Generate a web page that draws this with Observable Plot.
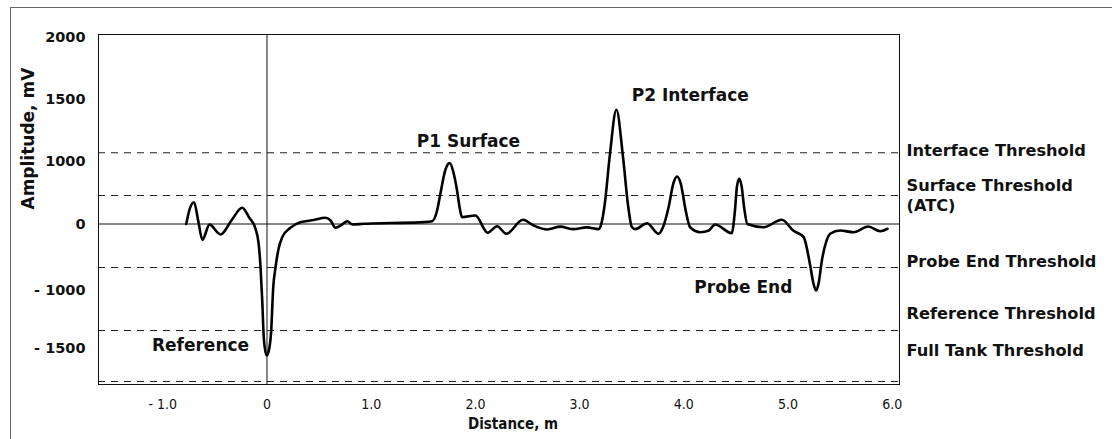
<!DOCTYPE html>
<html><head><meta charset="utf-8">
<script src="https://cdn.jsdelivr.net/npm/d3@7"></script>
<script src="https://cdn.jsdelivr.net/npm/@observablehq/plot@0.6"></script>
<style>
body{margin:0;background:#fff;}
#wrap{position:relative;width:1112px;height:439px;overflow:hidden;background:#fff;}
#border{position:absolute;left:10px;top:7px;width:1120px;height:450px;border:1px solid #666;box-sizing:border-box;}
#chart{position:absolute;left:0;top:0;}
</style></head><body>
<div id="wrap"><div id="border"></div><div id="chart"></div></div>
<script>
// Waveform (distance in m, amplitude in mV)
const distance = [-0.775,-0.74,-0.70,-0.66,-0.62,-0.552,-0.446,-0.34,-0.238,-0.17,-0.11,-0.08,-0.062,-0.045,-0.031,-0.005,0.017,0.04,0.06,0.082,0.11,0.146,0.225,0.32,0.45,0.56,0.61,0.657,0.72,0.77,0.82,0.93,1.2,1.5,1.585,1.63,1.664,1.71,1.754,1.79,1.824,1.85,1.872,2.0,2.118,2.208,2.297,2.457,2.56,2.69,2.815,2.94,3.07,3.18,3.20,3.24,3.29,3.353,3.415,3.465,3.50,3.535,3.647,3.758,3.80,3.854,3.90,3.935,3.97,4.02,4.06,4.16,4.24,4.30,4.46,4.49,4.51,4.532,4.555,4.58,4.61,4.765,4.94,5.05,5.15,5.21,5.245,5.27,5.295,5.325,5.37,5.405,5.50,5.63,5.77,5.885,5.955];
const amplitude = [0,250,349,50,-238,-10,-158,60,259,100,-72,-300,-650,-1100,-1403,-1560,-1520,-1350,-950,-650,-380,-198,-57,27,63,99,56,-57,-8,45,-8,3,15,30,45,200,483,856,975,820,536,250,109,136,-131,-33,-147,67,-23,-83,-40,-77,-51,-77,-40,300,1050,1417,1050,300,-40,-77,13,-147,-50,269,650,760,650,200,-48,-123,-98,-8,-138,200,600,723,600,250,0,-48,67,-98,-198,-598,-900,-1000,-880,-549,-250,-147,-98,-123,-38,-108,-72];

// Threshold levels (mV)
const thresholdLevels = [1070, 456, -654, -1345, -1784];
// Threshold labels on the right
const thresholdLabels = ["Interface Threshold","Surface Threshold\n(ATC)","Probe End Threshold","Reference Threshold","Full Tank Threshold"];
const thresholdLabelY = [1097, 468, -549, -1194, -1509];

// Peak annotations
const peakLabels = ["P1 Surface","P2 Interface","Reference","Probe End"];
const peakLabelX = [1.933, 4.062, -0.638, 4.571];
const peakLabelY = [1161, 1532, -1478, -962];

// Axis ticks
const yTicks = [2000, 1500, 1000, 0, -1000, -1500];
const xTicks = [-1, 0, 1, 2, 3, 4, 5, 6];

// The original axis is non-uniform: tick labels are (almost) evenly spaced.
// A piecewise warp, applied as the y scale's own transform.
const warp = d3.scaleLinear()
  .domain([-1810, -1500, -1000, 0, 1000, 1500, 2025])
  .range([0, 36, 94, 160.5, 223, 285, 350]);

const wave = distance.map((d, i) => ({x: d, y: amplitude[i]}));
const peaks = peakLabels.map((t, i) => ({t, x: peakLabelX[i], y: peakLabelY[i]}));
const rightLabels = thresholdLabels.map((t, i) => ({t, y: thresholdLabelY[i]}));

const boldFont = "'DejaVu Sans', sans-serif";
const narrowFont = "'Liberation Sans Narrow', 'DejaVu Sans Condensed', 'Roboto Condensed', 'Liberation Sans', sans-serif";

const chart = Plot.plot({
  width: 1112,
  height: 439,
  marginLeft: 98,
  marginRight: 213,
  marginTop: 34,
  marginBottom: 55,
  style: {fontFamily: boldFont, background: "transparent", color: "#111"},
  x: {domain: [-1.617, 6.07]},
  y: {transform: warp, domain: [0, 350]},
  marks: [
    Plot.ruleY(thresholdLevels, {stroke: "#222", strokeWidth: 1.1, strokeDasharray: "7,6"}),
    Plot.ruleY([0], {stroke: "#111", strokeWidth: 1}),
    Plot.ruleX([0], {stroke: "#111", strokeWidth: 1}),
    Plot.line(wave, {x: "x", y: "y", curve: "monotone-x", stroke: "#000", strokeWidth: 2.6}),
    Plot.frame({stroke: "#111", strokeWidth: 1}),
    Plot.text(peaks, {x: "x", y: "y", text: "t", fontSize: 17, fontWeight: "bold", fontFamily: boldFont, fill: "#111"}),
    Plot.text(rightLabels, {y: "y", text: "t", frameAnchor: "right", textAnchor: "start", dx: 7, lineHeight: 1.2, fontSize: 16.2, fontWeight: "bold", fontFamily: boldFont, fill: "#111"}),
    Plot.text(["Amplitude, mV"], {text: d => d, frameAnchor: "left", rotate: -90, dx: -70, fontSize: 17, fontWeight: "bold", fontFamily: boldFont, fill: "#111"}),
    Plot.text(["Distance, m"], {text: d => d, frameAnchor: "bottom", dx: 14, dy: 44, fontSize: 15, fontWeight: "bold", fontFamily: narrowFont, fill: "#111"}),
    Plot.axisY(yTicks, {tickSize: 0, tickPadding: 13, label: null, fontSize: 14.5, fontWeight: "bold", fontFamily: boldFont,
      tickFormat: v => v < 0 ? "- " + Math.abs(v) : String(v)}),
    Plot.axisX(xTicks, {tickSize: 0, tickPadding: 15, label: null, fontSize: 14, fontFamily: narrowFont,
      tickFormat: v => v === 0 ? "0" : (v < 0 ? "- " + Math.abs(v).toFixed(1) : v.toFixed(1))})
  ]
});
document.getElementById("chart").appendChild(chart);
</script>
</body></html>
